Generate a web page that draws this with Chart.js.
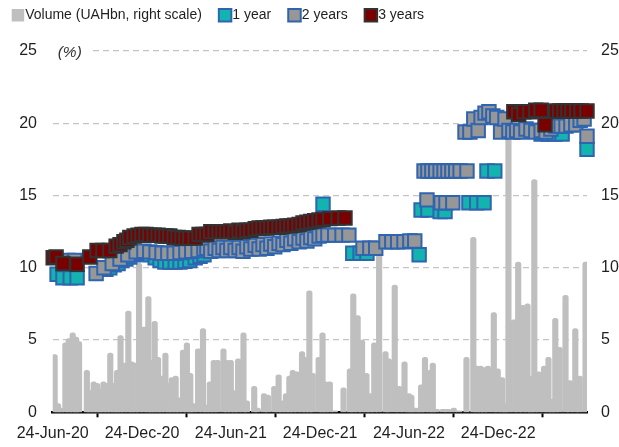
<!DOCTYPE html>
<html><head><meta charset="utf-8">
<script src="https://cdn.jsdelivr.net/npm/chart.js@4.4.1/dist/chart.umd.min.js"></script>
<style>html,body{margin:0;padding:0;background:#fff;overflow:hidden}#wrap{position:relative;width:619px;height:447px}</style>
</head><body><div id="wrap"><canvas id="c" width="619" height="447"></canvas></div>
<script>
// x values are days since 24-Jun-2020
const xTickDays = [0, 183, 365, 548, 730, 913];
const xTickLabels = ['24-Jun-20', '24-Dec-20', '24-Jun-21', '24-Dec-21', '24-Jun-22', '24-Dec-22'];
const yTicks = [0, 5, 10, 15, 20, 25];
const seriesNames = ['Volume (UAHbn, right scale)', '1 year', '2 years', '3 years'];

const volumeDays = [4,11,17,26,33,41,48,54,70,76,84,91,97,104,111,118,126,132,139,146,155,162,169,177,
 187,196,202,209,216,222,231,238,244,252,258,267,275,282,288,298,308,315,322,330,338,350,357,365,
 373,380,391,398,413,420,433,441,454,463,470,478,485,492,501,511,518,526,533,545,
 553,559,568,578,596,609,616,625,634,643,650,659,669,682,689,701,710,721,730,
 735,742,749,755,763,773,779,787,800,810,822,833,848,862,869,877,884,892,904,912,921,
 927,934,945,954,963,973,980,987,996,1007,1016,1023,1030,1039,1051,1060,1071,1080,1092];
const volumeValues = [4.0,0.6,0.3,4.8,5.1,5.5,5.2,4.9,2.9,1.5,2.1,2.0,1.6,2.1,2.0,4.1,2.0,2.9,5.3,3.4,7.0,3.5,3.4,10.3,
 5.9,8.0,3.6,6.3,3.8,2.5,4.1,2.0,2.4,2.5,1.0,4.3,4.8,2.7,0.6,4.4,5.8,0.5,2.1,3.6,3.6,4.4,3.6,3.6,
 1.5,3.7,5.5,0.8,1.8,0.3,1.3,1.2,1.8,2.6,0.8,1.3,2.5,2.9,2.8,4.2,3.8,8.4,2.7,3.8,
 5.5,2.1,2.1,0.1,1.7,3.0,8.2,6.7,5.0,2.7,1.3,4.8,11.0,4.2,3.7,8.8,1.8,3.5,1.3,
 1.2,0.3,0.3,1.9,3.8,2.9,3.4,0.2,0.2,0.2,0.3,0.1,3.8,12.1,3.2,3.2,3.1,3.2,6.9,3.0,2.4,
 0.6,19.6,6.4,10.4,7.4,7.5,2.5,16.1,2.8,3.2,3.8,0.9,6.5,4.5,8.1,2.2,5.8,2.5,10.4];

const oneYearDays = [9,21,36,50,109,117,126,134,142,150,158,167,175,183,191,199,210,220,230,240,251,261,271,281,292,302,310,
 554,615,630,644,751,755,769,794,804,853,869,884,890,906,1001,1015,1029,1044,1095];
const oneYearYields = [9.55,9.3,9.3,9.3,9.9,10.0,10.2,10.3,10.5,10.6,10.75,10.9,11.0,11.0,11.0,10.9,10.7,10.5,10.4,10.4,10.4,10.4,10.45,10.5,10.7,10.8,10.9,
 14.4,11.0,11.0,11.0,10.9,14.0,14.0,13.9,13.9,14.5,14.5,14.5,16.7,16.7,19.25,19.25,19.25,19.25,18.2];

const twoYearDays = [31,45,89,105,122,138,154,171,187,199,212,224,236,249,261,273,285,298,310,
 316,324,333,341,349,357,365,374,382,390,398,406,415,423,431,439,447,455,464,472,480,488,496,505,513,521,529,537,546,554,
 564,578,593,607,636,650,662,683,695,707,720,732,742,
 767,796,806,820,761,769,777,785,794,802,810,818,826,835,849,
 845,855,863,872,878,886,894,902,910,918,927,935,943,951,959,970,980,990,1001,1011,1021,1031,1042,1052,1062,1072,1081,1089,1095];
const twoYearYields = [10.5,10.5,9.6,10.0,10.3,10.6,10.9,11.1,11.15,11.1,11.05,11.0,11.0,11.0,11.05,11.1,11.15,11.2,11.3,
 11.35,11.15,11.35,11.2,11.4,11.2,11.4,11.2,11.4,11.15,11.45,11.3,11.55,11.3,11.6,11.35,11.65,11.45,11.7,11.6,11.9,11.7,12.0,11.8,12.05,11.85,12.1,12.0,12.2,12.25,
 12.26,12.26,12.26,12.26,11.35,11.35,11.35,11.8,11.8,11.8,11.8,11.85,11.85,
 14.7,14.5,14.5,14.5,16.7,16.7,16.7,16.7,16.7,16.7,16.7,16.7,16.7,16.7,16.7,
 19.4,19.4,20.3,19.5,20.4,20.7,20.8,20.5,20.4,19.4,20.3,19.5,19.4,19.5,19.4,19.6,19.5,19.4,19.5,19.4,19.6,19.8,19.8,19.8,19.9,19.9,20.2,20.3,19.1];

const threeYearDays = [1,7,21,50,76,91,103,117,130,138,146,152,158,167,175,183,191,199,208,216,224,232,240,249,257,265,273,281,292,
 300,308,316,324,333,341,349,357,365,374,382,390,398,406,415,423,431,439,447,455,464,472,480,488,496,505,513,521,529,537,546,554,568,585,599,
 945,955,966,978,990,1001,1009,1031,1039,1048,1056,1064,1074,1083,1095];
const threeYearYields = [10.7,10.75,10.3,10.25,10.75,11.2,11.2,11.2,11.5,11.6,11.8,11.9,12.1,12.2,12.25,12.3,12.3,12.25,12.25,12.25,12.2,12.2,12.2,12.1,12.1,12.05,12.05,12.05,12.05,
 12.3,12.3,12.3,12.5,12.5,12.5,12.5,12.5,12.55,12.45,12.6,12.5,12.6,12.6,12.7,12.75,12.75,12.75,12.8,12.8,12.8,12.85,12.9,12.9,12.95,13.0,13.1,13.15,13.2,13.25,13.3,13.35,13.4,13.45,13.45,
 20.8,20.6,20.8,20.8,20.9,20.9,19.9,20.85,20.85,20.85,20.85,20.85,20.85,20.85,20.85];

const FONT = "'Liberation Sans',Arial,sans-serif";
Chart.defaults.font.family = FONT;
Chart.defaults.font.size = 16;
Chart.defaults.color = '#1f1f1f';

const toPts = (d, v) => d.map((x, i) => ({x: x, y: v[i]}));

const pctLabel = {
  id: 'pctLabel',
  beforeDatasetsDraw(chart) {
    const {ctx, chartArea: a} = chart;
    const y = chart.scales.y.getPixelForValue(25);
    ctx.save();
    ctx.fillStyle = '#fff';
    ctx.fillRect(a.left, y - 3, 38, 6);
    ctx.font = 'italic 15.5px ' + FONT;
    ctx.fillStyle = '#333';
    ctx.textBaseline = 'middle';
    ctx.fillText('(%)', a.left + 5, y + 1.5);
    ctx.restore();
  }
};

const markerCommon = {type: 'scatter', yAxisID: 'y', pointStyle: 'rect', pointRadius: 9.5, pointHoverRadius: 9.5, pointBorderWidth: 2, clip: false};

new Chart(document.getElementById('c'), {
  type: 'bar',
  data: {
    datasets: [
      {type: 'bar', label: seriesNames[0], data: toPts(volumeDays, volumeValues), yAxisID: 'y2',
       backgroundColor: '#bfbfbf', borderWidth: 0, barThickness: 5.5,
       borderRadius: {topLeft: 2.5, topRight: 2.5, bottomLeft: 0, bottomRight: 0}, borderSkipped: 'start', order: 3},
      Object.assign({label: seriesNames[1], data: toPts(oneYearDays, oneYearYields),
       backgroundColor: '#13b3b0', borderColor: '#2f64b0', order: 2}, markerCommon),
      Object.assign({label: seriesNames[2], data: toPts(twoYearDays, twoYearYields),
       backgroundColor: '#979797', borderColor: '#2f64b0', order: 1}, markerCommon),
      Object.assign({label: seriesNames[3], data: toPts(threeYearDays, threeYearYields),
       backgroundColor: '#7a0000', borderColor: '#333333', order: 0}, markerCommon)
    ]
  },
  options: {
    responsive: false, animation: false, devicePixelRatio: 1,
    events: [],
    layout: {padding: {left: -5.3, top: -14.7, right: 0, bottom: 0}},
    plugins: {
      legend: {
        align: 'start', maxHeight: 40,
        labels: {usePointStyle: true, pointStyle: 'rect', boxWidth: 0.5, boxHeight: 12.5, padding: 23,
                 font: {size: 14}, color: '#1f1f1f', sort: (a, b) => a.datasetIndex - b.datasetIndex}
      },
      tooltip: {enabled: false}
    },
    scales: {
      x: {
        type: 'linear', min: 0, max: 1095, offset: false,
        afterBuildTicks: s => { s.ticks = xTickDays.map(v => ({value: v})); },
        ticks: {callback: (v, i) => xTickLabels[i], maxRotation: 0, autoSkip: false, padding: 7},
        grid: {drawOnChartArea: false, drawTicks: true, tickLength: 5, color: '#000', tickWidth: 2},
        border: {display: true, color: '#000', width: 2.5},
        afterFit: s => { s.height = 34.7; }
      },
      xTop: {
        type: 'linear', position: 'top', min: 0, max: 1,
        ticks: {display: false}, grid: {display: false, drawTicks: false}, border: {display: false},
        afterFit: s => { s.height = 25.7; }
      },
      y: {
        position: 'left', min: 0, max: 25,
        afterBuildTicks: s => { s.ticks = yTicks.map(v => ({value: v})); },
        ticks: {padding: 15.7},
        grid: {color: c => (c.tick && c.tick.value === 0) ? 'rgba(0,0,0,0)' : '#c4c4c4', lineWidth: 1.3, drawTicks: false},
        border: {display: false, dash: [6, 4]},
        afterFit: s => { s.width = 58; }
      },
      y2: {
        position: 'right', min: 0, max: 25,
        afterBuildTicks: s => { s.ticks = yTicks.map(v => ({value: v})); },
        ticks: {padding: 14},
        grid: {display: false, drawTicks: false},
        border: {display: false},
        afterFit: s => { s.width = 32; }
      }
    }
  },
  plugins: [pctLabel]
});
</script></body></html>
